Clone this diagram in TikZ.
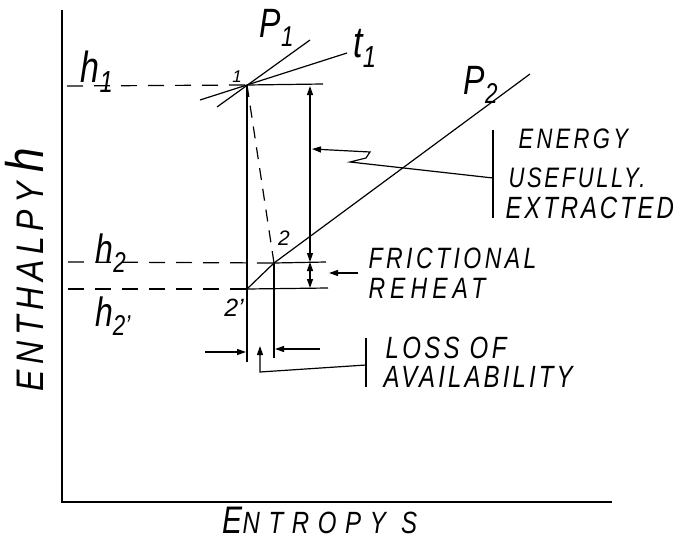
\documentclass[tikz,border=0pt]{standalone}
\usepackage{fontspec}
\usepackage{graphicx}
\setmainfont{Liberation Sans}
\usetikzlibrary{arrows.meta}
\newcommand\fsz[1]{\fontsize{#1}{#1}\selectfont}
\newcommand\tall[1]{\scalebox{1}[1.28]{#1}}
\begin{document}
\begin{tikzpicture}[x=1pt,y=-1pt,line width=1.2pt,
  tipend/.style={-{Triangle[length=9pt,width=6pt]}},
  twotips/.style={{Triangle[length=9pt,width=6pt]}-{Triangle[length=9pt,width=6pt]}},
  hdash/.style={dash pattern=on 16pt off 11pt},
  pathdash/.style={dash pattern=on 12pt off 9pt},
  txt/.style={inner sep=0pt,anchor=base west,font=\itshape},
  sym/.style={inner sep=0pt,font=\itshape}]
\useasboundingbox (0,0) rectangle (683,543);
% axes
\coordinate (ytop) at (62,10);
\coordinate (O) at (62,502);
\coordinate (xend) at (612,502);
\draw[line width=1.4pt] (ytop) -- (O) -- (xend);
% key points
\coordinate (p1) at (247,85);
\coordinate (p2) at (274,263);
\coordinate (p2p) at (247,289);
\coordinate (h1s) at (67,86);
\coordinate (h2s) at (68,262);
\coordinate (h2ps) at (68,289);
\coordinate (topR) at (323,84);
\coordinate (h2e) at (326,262);
\coordinate (h2pe) at (328,288);
\coordinate (v1b) at (247,362);
\coordinate (v2b) at (274,358);
% enthalpy levels
\draw[hdash] (h1s) -- (p1);
\draw (p1) -- (topR);
\draw[hdash] (h2s) -- (p2);
\draw (p2) -- (h2e);
\draw[hdash] (h2ps) -- (p2p);
\draw (p2p) -- (h2pe);
% verticals
\draw (p1) -- (v1b);
\draw (p2) -- (v2b);
\draw[pathdash] (p1) -- (p2);
% isobars / isotherm
\coordinate (P1a) at (217,107);
\coordinate (P1b) at (310,40);
\coordinate (t1a) at (200,100);
\coordinate (t1b) at (347,53);
\coordinate (P2e) at (530,74);
\draw (P1a) -- (P1b);
\draw (t1a) -- (t1b);
\draw (p2p) -- (p2) -- (P2e);
% energy / reheat arrows
\coordinate (eA) at (310,86);
\coordinate (eB) at (310,262);
\coordinate (eC) at (310,288);
\draw[twotips] (eB) -- (eA);
\draw[twotips] (eB) -- (eC);
\coordinate (frS) at (358,273);
\coordinate (frE) at (329,273);
\draw[tipend] (frS) -- (frE);
% energy usefully extracted pointer
\coordinate (ebT) at (493,130);
\coordinate (ebB) at (493,218);
\coordinate (ebM) at (493,178);
\coordinate (ez1) at (350,162);
\coordinate (ez2) at (366,158);
\coordinate (ez3) at (370,152);
\coordinate (eTip) at (312,149);
\draw (ebT) -- (ebB);
\draw[tipend] (ebM) -- (ez1) -- (ez2) -- (ez3) -- (eTip);
% loss of availability
\coordinate (la) at (205,352);
\coordinate (lb) at (246,352);
\coordinate (lc) at (320,349);
\coordinate (ld) at (275,349);
\draw[tipend] (la) -- (lb);
\draw[tipend] (lc) -- (ld);
\coordinate (lbT) at (366,338);
\coordinate (lbB) at (366,387);
\coordinate (lbM) at (366,365);
\coordinate (lk) at (260,372);
\coordinate (lTip) at (260,346);
\draw (lbT) -- (lbB);
\draw[tipend] (lbM) -- (lk) -- (lTip);
% labels
\node[sym] (lP1) at (277,28) {\tall{\fsz{32}P\textsubscript{1}}};
\node[sym] (lt1) at (365,48) {\tall{\fsz{34}t\textsubscript{1}}};
\node[sym] (lP2) at (481,85) {\tall{\fsz{32}P\textsubscript{2}}};
\node[sym] (lh1) at (97,72) {\tall{\fsz{34}h\textsubscript{1}}};
\node[sym] (l1) at (237,77) {\fsz{17}1};
\node[sym] (l2) at (284,238) {\fsz{21}2};
\node[sym] (l2p) at (234,308) {\fsz{25}2'};
\node[sym] (lh2) at (111,253) {\tall{\fsz{32}h\textsubscript{2}}};
\node[sym] (lh2p) at (113,316) {\tall{\fsz{32}h\textsubscript{2'}}};
\node[txt] (tE1) at (518,148) {\tall{\fsz{22}\addfontfeature{LetterSpace=15}ENERGY}};
\node[txt] (tE2) at (508,187) {\tall{\fsz{22}\addfontfeature{LetterSpace=12}USEFULLY.}};
\node[txt] (tE3) at (505,218) {\tall{\fsz{24}\addfontfeature{LetterSpace=12}EXTRACTED}};
\node[txt] (tF1) at (368,268) {\tall{\fsz{23}\addfontfeature{LetterSpace=15}FRICTIONAL}};
\node[txt] (tF2) at (368,298) {\tall{\fsz{23}\addfontfeature{LetterSpace=22}REHEAT}};
\node[txt] (tL1) at (385,358) {\tall{\fsz{24}\addfontfeature{LetterSpace=14}LOSS OF}};
\node[txt] (tL2) at (383,387) {\tall{\fsz{24}\addfontfeature{LetterSpace=13}AVAILABILITY}};
\node[txt] (tS) at (222,533) {\tall{{\fsz{30}E}{\fsz{24}\addfontfeature{LetterSpace=36}NTROPY S}}};
\node[sym,rotate=90,anchor=base] (tH) at (43,270) {\scalebox{1}[1.2]{{\fsz{32}\addfontfeature{LetterSpace=18}ENTHALPY}\hspace{10pt}{\fsz{44}h}}};
\end{tikzpicture}
\end{document}
